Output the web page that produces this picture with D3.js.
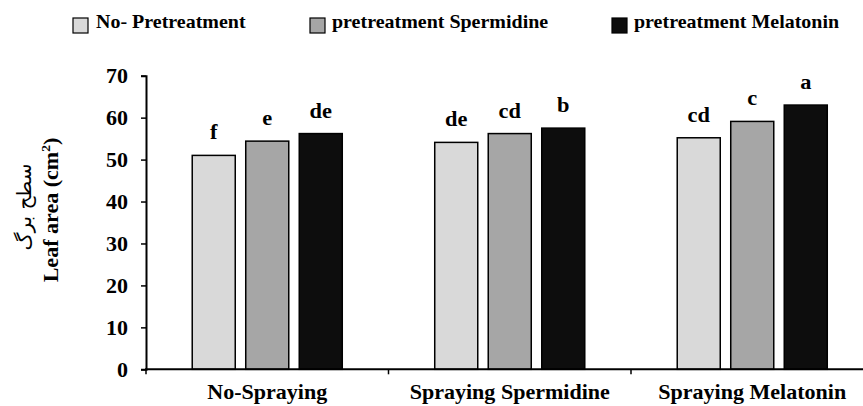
<!DOCTYPE html>
<html><head><meta charset="utf-8">
<script src="https://cdn.jsdelivr.net/npm/d3@7"></script>
<style>
body{margin:0;background:#fff;}
text{font-family:"Liberation Serif","Times New Roman",serif;font-weight:bold;fill:#000;}
</style></head>
<body><svg id="c" width="863" height="406"></svg>
<script>
const categories = ["No-Spraying", "Spraying Spermidine", "Spraying Melatonin"];
const series = ["No- Pretreatment", "pretreatment Spermidine", "pretreatment Melatonin"];
const noPretreatment = [51.0, 54.1, 55.2];
const pretreatSpermidine = [54.4, 56.2, 59.1];
const pretreatMelatonin = [56.2, 57.5, 63.0];
const lettersNoPre = ["f", "de", "cd"];
const lettersSperm = ["e", "cd", "c"];
const lettersMel = ["de", "b", "a"];
const yTicks = [0, 10, 20, 30, 40, 50, 60, 70];
const colors = ["#d9d9d9", "#a6a6a6", "#0d0d0d"];

const values = [noPretreatment, pretreatSpermidine, pretreatMelatonin];
const letters = [lettersNoPre, lettersSperm, lettersMel];

const svg = d3.select("#c");
const x0 = 146, yZero = 369.3, yTop = 75.7, bandW = 242.5;
const x = d3.scaleBand().domain(categories).range([x0, x0 + 3 * bandW]).paddingInner(0).paddingOuter(0);
const xi = d3.scaleBand().domain(series).range([0, bandW]).paddingInner(0.196).paddingOuter(0.864);
const y = d3.scaleLinear().domain([0, 70]).range([yZero, yTop]);

function stretch(sel, sx) {
  sel.each(function () {
    const t = d3.select(this);
    const tx = +t.attr("x") || 0, ty = +t.attr("y") || 0;
    t.attr("x", 0).attr("y", 0).attr("transform", `translate(${tx},${ty}) scale(${sx},1)`);
  });
}

// bars
const rows = [];
categories.forEach((c, ci) => series.forEach((s, si) => rows.push({c, s, si, v: values[si][ci], l: letters[si][ci]})));
svg.append("g").selectAll("rect").data(rows).join("rect")
  .attr("x", d => x(d.c) + xi(d.s))
  .attr("y", d => y(d.v))
  .attr("width", xi.bandwidth())
  .attr("height", d => yZero - y(d.v))
  .attr("fill", d => colors[d.si])
  .attr("stroke", "#000").attr("stroke-width", 1.5);

const lab = svg.append("g").selectAll("text").data(rows).join("text")
  .attr("x", d => x(d.c) + xi(d.s) + xi.bandwidth() / 2)
  .attr("y", d => y(d.v) - 16)
  .attr("text-anchor", "middle")
  .style("font-size", "20px")
  .text(d => d.l);
stretch(lab, 1.12);

// y axis
const yAxis = svg.append("g").attr("transform", `translate(${x0},0)`)
  .call(d3.axisLeft(y).tickValues(yTicks).tickSize(5).tickPadding(13).tickFormat(d3.format("d")));
yAxis.select(".domain").attr("stroke", "#000").attr("stroke-width", 2);
yAxis.selectAll(".tick line").attr("stroke", "#000").attr("stroke-width", 1.5);
yAxis.selectAll(".tick text").style("font-size", "20px").style("font-family", "'Liberation Serif',serif").style("font-weight", "bold").attr("dy", "0.34em");
yAxis.selectAll(".tick text").each(function () {
  const t = d3.select(this);
  const tx = +t.attr("x");
  t.attr("x", 0).attr("transform", `translate(${tx},0) scale(1.1,1)`);
});

// x axis
const xAxis = svg.append("g").attr("transform", `translate(0,${yZero})`);
xAxis.append("line").attr("x1", x0 - 1).attr("x2", 863).attr("stroke", "#000").attr("stroke-width", 2);
const bounds = [x0, x0 + bandW, x0 + 2 * bandW];
xAxis.selectAll(".tk").data(bounds).join("line").attr("class", "tk")
  .attr("x1", d => d).attr("x2", d => d).attr("y1", 0).attr("y2", 5)
  .attr("stroke", "#000").attr("stroke-width", 1.5);
const xl = svg.append("g").selectAll("text").data(categories).join("text")
  .attr("x", d => x(d) + x.bandwidth() / 2)
  .attr("y", 399)
  .attr("text-anchor", "middle")
  .style("font-size", "21px")
  .text(d => d);
stretch(xl, 1.05);

// y title
svg.append("text")
  .attr("transform", "translate(58,210) rotate(-90) scale(1.05,1)")
  .attr("text-anchor", "middle")
  .style("font-size", "21px")
  .html("Leaf area (cm<tspan dy='-8' style='font-size:13px'>2</tspan><tspan dy='8'>)</tspan>");
svg.append("text")
  .attr("transform", "translate(31,207) rotate(-90)")
  .attr("text-anchor", "middle")
  .style("font-size", "20px")
  .style("font-weight", "normal")
  .style("font-family", "'DejaVu Sans',sans-serif")
  .attr("direction", "rtl")
  .text("سطح برگ");

// legend
const legX = [73, 310, 612];
const leg = svg.append("g").selectAll("g").data(series).join("g")
  .attr("transform", (d, i) => `translate(${legX[i]},0)`);
leg.append("rect").attr("x", 0).attr("y", 18).attr("width", 15).attr("height", 15)
  .attr("fill", (d, i) => colors[i]).attr("stroke", "#000").attr("stroke-width", 1.2);
const lt = leg.append("text").attr("x", (d, i) => i === 0 ? 23 : 22).attr("y", 28)
  .style("font-size", "18.5px").text(d => d);
stretch(lt, 1.08);
</script></body></html>
